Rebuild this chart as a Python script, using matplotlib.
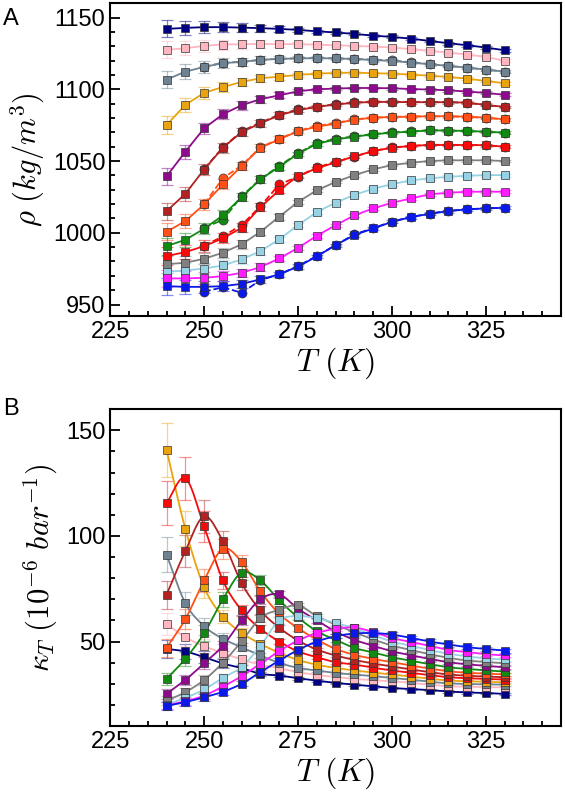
import numpy as np
import matplotlib
matplotlib.use("Agg")
import matplotlib.pyplot as plt
from matplotlib.ticker import MultipleLocator

plt.rcParams['font.family'] = ['Liberation Sans', 'DejaVu Sans']
plt.rcParams['mathtext.fontset'] = 'cm'

T = [240, 245, 250, 255, 260, 265, 270, 275, 280, 285, 290, 295, 300, 305, 310, 315, 320, 325, 330]
T_c = T[2:]

# panel A, density (kg/m^3), squares
rho_navy = [1142.1, 1142.8, 1143.3, 1143.3, 1143.0, 1142.6, 1142.1, 1141.4, 1140.4, 1139.6, 1138.6, 1137.4, 1136.5, 1135.3, 1133.7, 1132.1, 1130.7, 1129.1, 1127.2]
rho_pink = [1127.5, 1128.6, 1130.3, 1131.2, 1131.4, 1131.6, 1131.4, 1131.5, 1131.0, 1130.7, 1130.2, 1129.8, 1129.1, 1128.0, 1126.8, 1125.6, 1124.2, 1122.6, 1119.8]
rho_slate = [1106.7, 1112.3, 1115.6, 1118.2, 1119.1, 1120.5, 1121.2, 1121.5, 1121.7, 1121.5, 1121.1, 1120.3, 1119.8, 1118.6, 1117.5, 1116.3, 1115.1, 1113.7, 1112.3]
rho_orange = [1075.1, 1089.1, 1097.5, 1101.6, 1105.1, 1107.7, 1108.8, 1110.0, 1110.9, 1111.4, 1111.6, 1111.2, 1110.9, 1110.2, 1109.5, 1108.6, 1107.4, 1105.8, 1104.2]
rho_purple = [1039.3, 1056.5, 1072.8, 1082.6, 1088.9, 1093.1, 1095.8, 1098.6, 1100.0, 1100.5, 1100.9, 1100.9, 1100.7, 1100.2, 1099.8, 1099.3, 1098.4, 1097.5, 1096.1]
rho_brick = [1015.0, 1027.2, 1044.1, 1059.3, 1070.2, 1076.3, 1081.9, 1085.5, 1087.7, 1089.4, 1090.6, 1091.2, 1091.2, 1091.0, 1091.0, 1091.0, 1090.7, 1089.1, 1087.7]
rho_ored = [1000.7, 1008.1, 1019.8, 1033.7, 1046.5, 1059.3, 1065.1, 1070.8, 1073.9, 1076.1, 1078.9, 1080.2, 1080.7, 1080.9, 1081.2, 1081.2, 1080.9, 1080.2, 1079.1]
rho_green = [990.7, 995.1, 1002.8, 1012.1, 1024.9, 1037.2, 1046.0, 1055.1, 1062.0, 1065.0, 1067.0, 1068.6, 1069.8, 1070.4, 1071.4, 1071.2, 1071.0, 1070.4, 1069.8]
rho_red = [983.8, 986.5, 990.7, 996.1, 1003.5, 1018.0, 1029.6, 1039.6, 1044.9, 1049.1, 1053.3, 1056.9, 1059.3, 1060.5, 1061.2, 1061.2, 1061.2, 1061.0, 1060.0]
rho_gray = [978.1, 979.1, 981.9, 986.1, 992.0, 1000.7, 1011.2, 1021.5, 1029.6, 1035.4, 1040.2, 1044.2, 1047.2, 1048.8, 1050.0, 1050.5, 1050.5, 1050.5, 1050.0]
rho_lblue = [972.8, 973.7, 975.1, 977.2, 981.4, 987.2, 995.4, 1005.4, 1014.4, 1021.1, 1026.4, 1030.7, 1033.9, 1036.5, 1037.9, 1039.0, 1039.7, 1040.2, 1040.2]
rho_magenta = [968.2, 968.2, 968.6, 969.8, 972.1, 976.1, 982.1, 989.5, 997.9, 1005.3, 1012.1, 1017.0, 1020.9, 1023.9, 1026.8, 1027.9, 1028.6, 1028.6, 1028.6]
rho_blue = [962.8, 962.3, 962.3, 962.8, 964.4, 967.5, 971.0, 976.5, 983.5, 991.4, 998.4, 1003.0, 1007.6, 1010.9, 1013.2, 1015.1, 1016.3, 1017.0, 1017.4]
rho_err = [6, 5, 4, 3.5, 3, 2.5, 2, 1.5, 1.2, 1, 1, 1, 1, 1, 1, 1, 1, 1, 1]

# panel A, second set (circles, dashed), T >= 250
rhoc_slate = [1115.8, 1118.5, 1119.2, 1120.5, 1121.3, 1121.6, 1121.8, 1121.5, 1121.3, 1120.7, 1120.2, 1118.8, 1117.6, 1116.3, 1115.1, 1113.7, 1112.3]
rhoc_brick = [1044.5, 1059.5, 1070.8, 1076.8, 1082.3, 1086.0, 1088.0, 1089.6, 1090.8, 1091.3, 1091.3, 1091.1, 1091.0, 1091.0, 1090.6, 1089.0, 1087.6]
rhoc_ored = [1020.0, 1038.0, 1047.0, 1059.5, 1065.5, 1071.0, 1074.5, 1076.5, 1079.0, 1080.2, 1080.8, 1081.0, 1081.2, 1081.1, 1080.8, 1080.1, 1079.0]
rhoc_green = [1003.5, 1009.0, 1025.5, 1037.5, 1046.5, 1055.5, 1062.5, 1065.5, 1067.2, 1068.8, 1069.9, 1070.6, 1071.5, 1071.2, 1070.9, 1070.3, 1069.7]
rhoc_red = [991.0, 997.5, 1005.4, 1018.5, 1033.7, 1039.1, 1045.5, 1049.5, 1053.0, 1057.0, 1059.5, 1060.5, 1061.3, 1061.3, 1061.2, 1061.0, 1060.0]
rhoc_blue = [959.0, 962.0, 958.2, 967.0, 971.0, 976.8, 983.8, 991.4, 998.9, 1003.2, 1007.8, 1011.0, 1013.4, 1015.3, 1016.4, 1017.0, 1017.5]

# panel B, compressibility (1e-6 / bar)
kap_navy = [46.5, 45.3, 42.6, 39.6, 37.4, 34.7, 33.9, 32.6, 31.5, 30.4, 29.6, 28.8, 28.0, 27.5, 27.0, 26.3, 25.9, 25.6, 25.2]
kap_pink = [58.4, 52.0, 47.8, 44.5, 41.5, 39.0, 37.4, 35.5, 34.2, 33.2, 32.3, 31.7, 31.2, 30.4, 29.6, 28.8, 28.6, 28.4, 28.3]
kap_slate = [91.1, 68.2, 57.3, 51.3, 47.3, 43.4, 39.9, 37.5, 36.3, 35.1, 34.4, 33.6, 32.8, 31.9, 31.0, 30.2, 29.9, 29.7, 29.6]
kap_orange = [140.8, 103.4, 75.7, 61.8, 54.1, 48.9, 44.6, 41.3, 39.0, 37.5, 36.3, 35.3, 34.4, 33.4, 32.4, 31.5, 31.2, 30.9, 30.7]
kap_red = [115.6, 127.3, 104.5, 78.9, 64.7, 56.0, 50.0, 45.3, 42.6, 40.2, 39.1, 37.6, 36.3, 35.2, 34.1, 33.1, 32.6, 32.3, 32.0]
kap_brick = [72.1, 92.8, 109.2, 97.5, 77.6, 64.7, 56.5, 50.5, 46.2, 43.4, 41.3, 39.6, 38.2, 36.8, 35.5, 34.4, 33.8, 33.4, 33.1]
kap_ored = [47.0, 60.6, 78.9, 93.9, 87.6, 73.7, 63.1, 56.3, 50.9, 46.5, 43.7, 41.8, 40.2, 38.6, 37.2, 35.9, 35.2, 34.8, 34.4]
kap_green = [32.3, 41.8, 53.9, 70.0, 82.6, 78.9, 69.5, 61.4, 54.9, 50.8, 47.0, 44.8, 42.6, 40.9, 39.3, 37.8, 37.0, 36.3, 35.8]
kap_purple = [25.2, 31.8, 39.7, 48.0, 60.0, 70.0, 72.3, 65.5, 60.0, 54.7, 50.8, 48.0, 45.4, 43.5, 41.8, 40.2, 39.2, 38.5, 37.8]
kap_gray = [22.0, 26.0, 31.8, 40.0, 50.1, 61.2, 65.0, 67.1, 62.0, 58.0, 54.4, 51.0, 48.1, 46.0, 44.0, 42.3, 41.0, 40.3, 39.7]
kap_lblue = [20.0, 23.3, 27.3, 32.8, 38.0, 48.0, 60.0, 62.0, 61.0, 58.8, 56.3, 53.0, 50.0, 48.0, 46.0, 44.2, 43.0, 42.0, 41.5]
kap_magenta = [19.7, 21.7, 24.4, 28.7, 33.6, 39.5, 45.5, 50.5, 54.0, 56.0, 56.6, 54.5, 51.7, 49.8, 48.0, 46.0, 45.0, 44.0, 43.4]
kap_blue = [19.5, 21.3, 23.6, 26.2, 30.0, 35.5, 41.0, 46.0, 50.0, 52.5, 53.8, 54.0, 53.3, 51.7, 50.0, 48.6, 47.3, 46.5, 45.7]
kap_relerr = [0.09, 0.08, 0.07, 0.05, 0.04, 0.03, 0.025, 0.02, 0.02, 0.02, 0.02, 0.02, 0.02, 0.02, 0.02, 0.02, 0.02, 0.02, 0.02]

c_navy = '#000080'
c_pink = '#ffb6c1'
c_slate = '#6f8291'
c_orange = '#e9a30f'
c_purple = '#8c0b8c'
c_brick = '#b22222'
c_ored = '#ff5117'
c_green = '#128a12'
c_red = '#f40c0c'
c_gray = '#808080'
c_lblue = '#97d2e4'
c_magenta = '#ff1cff'
c_blue = '#0a18e8'

rho_sets = [(rho_navy, c_navy), (rho_pink, c_pink), (rho_slate, c_slate), (rho_orange, c_orange),
            (rho_purple, c_purple), (rho_brick, c_brick), (rho_ored, c_ored), (rho_green, c_green),
            (rho_red, c_red), (rho_gray, c_gray), (rho_lblue, c_lblue), (rho_magenta, c_magenta),
            (rho_blue, c_blue)]
rhoc_sets = [(rhoc_slate, c_slate), (rhoc_brick, c_brick), (rhoc_ored, c_ored),
             (rhoc_green, c_green), (rhoc_red, c_red), (rhoc_blue, c_blue)]
kap_sets = [(kap_navy, c_navy), (kap_pink, c_pink), (kap_slate, c_slate), (kap_orange, c_orange),
            (kap_red, c_red), (kap_brick, c_brick), (kap_ored, c_ored), (kap_green, c_green),
            (kap_purple, c_purple), (kap_gray, c_gray), (kap_lblue, c_lblue), (kap_magenta, c_magenta),
            (kap_blue, c_blue)]


def smooth_line(x, y, n=12):
    """Catmull-Rom curve through the points, only for drawing the guide line"""
    x = np.asarray(x, float)
    y = np.asarray(y, float)
    xp = np.concatenate(([2 * x[0] - x[1]], x, [2 * x[-1] - x[-2]]))
    yp = np.concatenate(([2 * y[0] - y[1]], y, [2 * y[-1] - y[-2]]))
    xs, ys = [], []
    t = np.linspace(0, 1, n, endpoint=False)
    for i in range(1, len(x)):
        p0, p1, p2, p3 = yp[i - 1], yp[i], yp[i + 1], yp[i + 2]
        ys.append(0.5 * (2 * p1 + (-p0 + p2) * t + (2 * p0 - 5 * p1 + 4 * p2 - p3) * t ** 2
                         + (-p0 + 3 * p1 - 3 * p2 + p3) * t ** 3))
        xs.append(xp[i] + (xp[i + 1] - xp[i]) * t)
    xs.append([x[-1]])
    ys.append([y[-1]])
    return np.concatenate(xs), np.concatenate(ys)


def style_axes(ax):
    for s in ax.spines.values():
        s.set_linewidth(1.5)
    ax.set_xlim(225, 345)
    ax.xaxis.set_major_locator(MultipleLocator(25))
    ax.xaxis.set_minor_locator(MultipleLocator(5))
    ax.yaxis.set_minor_locator(MultipleLocator(10))
    ax.tick_params(which='both', direction='in', top=False, right=False, labelsize=17, width=1.3)
    ax.tick_params(which='major', length=7)
    ax.tick_params(which='minor', length=3.5)
    ax.set_xlabel(r'$T\ (K)$', fontsize=23, labelpad=2)


fig = plt.figure(figsize=(5.65, 8), dpi=100)
axA = fig.add_axes([0.195, 0.605, 0.798, 0.391])
axB = fig.add_axes([0.195, 0.0925, 0.798, 0.396])

for vals, col in rhoc_sets:
    axA.plot(T_c, vals, '--o', color=col, ms=6.5, mec='#333333', mew=0.5, lw=1.3, zorder=2)
for vals, col in rho_sets:
    axA.errorbar(T, vals, yerr=rho_err, fmt='none', ecolor=col, alpha=0.5, elinewidth=0.9,
                 capsize=4, capthick=0.9, zorder=1)
    axA.plot(T, vals, '-s', color=col, ms=6, mec='#333333', mew=0.5, lw=1.3, zorder=3)

style_axes(axA)
axA.set_ylim(942, 1160)
axA.yaxis.set_major_locator(MultipleLocator(50))
axA.set_ylabel(r'$\rho\ (kg/m^3)$', fontsize=22, labelpad=4)

for vals, col in kap_sets:
    err = np.array(vals) * np.array(kap_relerr)
    axB.errorbar(T, vals, yerr=err, fmt='none', ecolor=col, alpha=0.45, elinewidth=0.9,
                 capsize=4, capthick=0.9, zorder=1)
    xs, ys = smooth_line(T, vals)
    axB.plot(xs, ys, '-', color=col, lw=1.3, zorder=2)
    axB.plot(T, vals, 's', color=col, ms=6, mec='#333333', mew=0.5, zorder=3)

style_axes(axB)
axB.set_ylim(10, 160)
axB.yaxis.set_major_locator(MultipleLocator(50))
axB.set_ylabel(r'$\kappa_T\ (10^{-6}\ bar^{-1})$', fontsize=22, labelpad=4)

fig.text(0.005, 0.99, 'A', fontsize=17, va='top', ha='left')
fig.text(0.005, 0.502, 'B', fontsize=17, va='top', ha='left')

fig.savefig('out.png', dpi=100)
